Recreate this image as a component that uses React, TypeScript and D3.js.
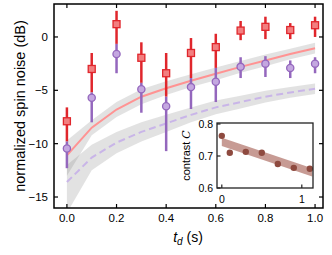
import * as d3 from 'd3'
import { useEffect, useRef } from 'react'

// delay times (s)
const tValues = [0, 0.1, 0.2, 0.3, 0.4, 0.5, 0.6, 0.7, 0.8, 0.9, 1.0]

// red squares: mean, upper and lower end of error bar (dB)
const redMean = [-7.9, -3.0, 1.2, -1.95, -3.4, -1.5, -0.95, 0.6, 0.95, 0.65, 1.1]
const redHi = [-6.6, -1.5, 2.45, -0.5, -1.5, -0.1, 0.3, 1.5, 1.9, 1.3, 1.9]
const redLo = [-9.8, -5.2, -0.65, -4.3, -5.6, -3.85, -2.9, -0.3, -0.2, -0.2, 0.0]

// purple circles
const purpleMean = [-10.45, -5.7, -1.6, -4.9, -6.5, -4.7, -4.2, -2.8, -2.5, -2.9, -2.5]
const purpleHi = [-9.8, -5.2, -0.65, -4.3, -5.6, -3.85, -2.9, -1.9, -1.8, -2.2, -1.9]
const purpleLo = [-12.3, -8.0, -3.4, -7.1, -10.7, -6.75, -6.1, -3.85, -3.75, -3.85, -3.4]

// model curves and their uncertainty bands
const redModel = [-11.1, -8.5, -6.8, -5.6, -4.8, -4.1, -3.45, -2.8, -2.2, -1.6, -1.05]
const redModelLo = [-13.0, -9.2, -7.5, -6.3, -5.45, -4.7, -4.05, -3.35, -2.75, -2.1, -1.55]
const redModelHi = [-9.7, -7.8, -6.1, -4.9, -4.15, -3.5, -2.85, -2.25, -1.65, -1.1, -0.55]

const dashModel = [-13.6, -11.3, -9.9, -8.9, -8.1, -7.3, -6.6, -6.1, -5.6, -5.2, -4.85]
const dashModelLo = [-16.5, -12.5, -10.9, -9.8, -8.9, -8.0, -7.25, -6.7, -6.15, -5.7, -5.35]
const dashModelHi = [-12.0, -10.1, -8.9, -8.0, -7.3, -6.6, -5.95, -5.5, -5.05, -4.7, -4.35]

const xTicks = [0, 0.2, 0.4, 0.6, 0.8, 1.0]
const yTicks = [-15, -10, -5, 0]

// inset: contrast vs delay
const insetT = [0, 0.1, 0.3, 0.5, 0.7, 0.9, 1.1]
const insetC = [0.763, 0.71, 0.713, 0.71, 0.675, 0.663, 0.66]
const insetFitT = [0, 1.13]
const insetFitLo = [0.731, 0.636]
const insetFitHi = [0.757, 0.662]
const insetXTicks = [0, 1]
const insetYTicks = [0.6, 0.7, 0.8]

const FONT = 'Liberation Sans, Arial, sans-serif'

export default function App() {
  const svgRef = useRef<SVGSVGElement | null>(null)

  useEffect(() => {
    if (!svgRef.current)
      return
    document.body.style.margin = '0'

    const svg = d3.select(svgRef.current)
    svg.selectAll('*').remove()

    const left = 54, right = 323, top = 4, bottom = 208
    const x = d3.scaleLinear().domain([-0.052, 1.032]).range([left, right])
    const y = d3.scaleLinear().domain([-16.03, 3.09]).range([bottom, top])

    svg.append('defs').append('clipPath').attr('id', 'plotclip')
      .append('rect').attr('x', left).attr('y', top)
      .attr('width', right - left).attr('height', bottom - top)

    const plot = svg.append('g').attr('clip-path', 'url(#plotclip)')

    const idx = d3.range(tValues.length)
    const band = (lo: number[], hi: number[]) => d3.area<number>()
      .x(i => x(tValues[i]))
      .y0(i => y(lo[i]))
      .y1(i => y(hi[i]))(idx)
    const line = (v: number[]) => d3.line<number>()
      .x(i => x(tValues[i]))
      .y(i => y(v[i]))(idx)

    plot.append('path').attr('d', band(dashModelLo, dashModelHi))
      .attr('fill', '#8c8c8c').attr('fill-opacity', 0.25)
    plot.append('path').attr('d', band(redModelLo, redModelHi))
      .attr('fill', '#8c8c8c').attr('fill-opacity', 0.25)
    plot.append('path').attr('d', line(dashModel))
      .attr('fill', 'none').attr('stroke', '#c9b5e8').attr('stroke-width', 2)
      .attr('stroke-dasharray', '7,4')
    plot.append('path').attr('d', line(redModel))
      .attr('fill', 'none').attr('stroke', '#ff9393').attr('stroke-width', 2)

    // red error bars + squares
    const red = plot.append('g')
    red.selectAll('line').data(idx).enter().append('line')
      .attr('x1', i => x(tValues[i])).attr('x2', i => x(tValues[i]))
      .attr('y1', i => y(redHi[i])).attr('y2', i => y(redLo[i]))
      .attr('stroke', '#e0262c').attr('stroke-width', 2.5)
    red.selectAll('rect').data(idx).enter().append('rect')
      .attr('x', i => x(tValues[i]) - 3.5).attr('y', i => y(redMean[i]) - 3.5)
      .attr('width', 7).attr('height', 7)
      .attr('fill', '#f27f80').attr('stroke', '#e0262c').attr('stroke-width', 1.3)

    // purple error bars + circles
    const purple = plot.append('g')
    purple.selectAll('line').data(idx).enter().append('line')
      .attr('x1', i => x(tValues[i])).attr('x2', i => x(tValues[i]))
      .attr('y1', i => y(purpleHi[i])).attr('y2', i => y(purpleLo[i]))
      .attr('stroke', '#9467bd').attr('stroke-width', 2.5)
    purple.selectAll('circle').data(idx).enter().append('circle')
      .attr('cx', i => x(tValues[i])).attr('cy', i => y(purpleMean[i]))
      .attr('r', 3.6)
      .attr('fill', '#c4a7e0').attr('stroke', '#9467bd').attr('stroke-width', 1.3)

    // axes, ticks inward on all sides
    const tk = 4
    const axes = svg.append('g').attr('font-family', FONT).attr('font-size', 11.5)
    xTicks.forEach(t => {
      axes.append('line').attr('x1', x(t)).attr('x2', x(t)).attr('y1', bottom).attr('y2', bottom - tk)
        .attr('stroke', '#000').attr('stroke-width', 1.2)
      axes.append('line').attr('x1', x(t)).attr('x2', x(t)).attr('y1', top).attr('y2', top + tk)
        .attr('stroke', '#000').attr('stroke-width', 1.2)
      axes.append('text').attr('x', x(t)).attr('y', 222).attr('text-anchor', 'middle')
        .text(d3.format('.1f')(t))
    })
    yTicks.forEach(v => {
      axes.append('line').attr('x1', left).attr('x2', left + tk).attr('y1', y(v)).attr('y2', y(v))
        .attr('stroke', '#000').attr('stroke-width', 1.2)
      axes.append('line').attr('x1', right).attr('x2', right - tk).attr('y1', y(v)).attr('y2', y(v))
        .attr('stroke', '#000').attr('stroke-width', 1.2)
      axes.append('text').attr('x', 48).attr('y', y(v) + 4).attr('text-anchor', 'end')
        .text(d3.format('d')(v))
    })
    svg.append('rect').attr('x', left).attr('y', top)
      .attr('width', right - left).attr('height', bottom - top)
      .attr('fill', 'none').attr('stroke', '#000').attr('stroke-width', 1.5)

    svg.append('text').attr('transform', `translate(25,${(top + bottom) / 2}) rotate(-90)`)
      .attr('text-anchor', 'middle').attr('font-family', FONT).attr('font-size', 14.5)
      .text('normalized spin noise (dB)')

    const xl = svg.append('text').attr('x', 188).attr('y', 242).attr('text-anchor', 'middle')
      .attr('font-family', FONT).attr('font-size', 14)
    xl.append('tspan').attr('font-style', 'italic').text('t')
    xl.append('tspan').attr('font-style', 'italic').attr('font-size', 10).attr('dy', 3).text('d')
    xl.append('tspan').attr('dy', -3).text(' (s)')

    // inset
    const il = 217, ir = 313, it = 123, ib = 188
    const ix = d3.scaleLinear().domain([-0.06, 1.14]).range([il, ir])
    const iy = d3.scaleLinear().domain([0.6, 0.8]).range([ib, 124])
    const inset = svg.append('g')
    inset.append('rect').attr('x', il).attr('y', it).attr('width', ir - il).attr('height', ib - it)
      .attr('fill', '#fff')
    const fi = d3.range(insetFitT.length)
    inset.append('path')
      .attr('d', d3.area<number>().x(i => ix(insetFitT[i])).y0(i => iy(insetFitLo[i])).y1(i => iy(insetFitHi[i]))(fi))
      .attr('fill', '#b47a70').attr('fill-opacity', 0.75)
    inset.selectAll('circle.pt').data(d3.range(insetT.length)).enter().append('circle')
      .attr('cx', i => ix(insetT[i])).attr('cy', i => iy(insetC[i])).attr('r', 3.2)
      .attr('fill', '#8e4a3f')
    const ia = inset.append('g').attr('font-family', FONT).attr('font-size', 10.5)
    insetXTicks.forEach(t => {
      ia.append('line').attr('x1', ix(t)).attr('x2', ix(t)).attr('y1', ib).attr('y2', ib - 3.5)
        .attr('stroke', '#222').attr('stroke-width', 1.2)
      ia.append('text').attr('x', ix(t)).attr('y', 202.5).attr('text-anchor', 'middle').text(d3.format('d')(t))
    })
    insetYTicks.forEach(v => {
      ia.append('line').attr('x1', il).attr('x2', il + 3.5).attr('y1', iy(v)).attr('y2', iy(v))
        .attr('stroke', '#222').attr('stroke-width', 1.2)
      ia.append('text').attr('x', 213).attr('y', iy(v) + 3.8).attr('text-anchor', 'end').text(d3.format('.1f')(v))
    })
    inset.append('rect').attr('x', il).attr('y', it).attr('width', ir - il).attr('height', ib - it)
      .attr('fill', 'none').attr('stroke', '#222').attr('stroke-width', 1.3)
    const cl = inset.append('text').attr('transform', `translate(190,${(it + ib) / 2}) rotate(-90)`)
      .attr('text-anchor', 'middle').attr('font-family', FONT).attr('font-size', 11)
    cl.append('tspan').text('contrast ')
    cl.append('tspan').attr('font-style', 'italic').attr('font-family', 'DejaVu Serif, serif').text('C')
  }, [])

  return (
    <svg ref={svgRef} width={332} height={255}
      style={{ position: 'absolute', left: 0, top: 0, background: '#fff' }} />
  )
}
